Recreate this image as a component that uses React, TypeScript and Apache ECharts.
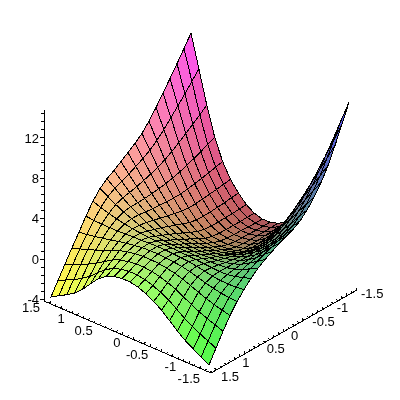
import React, { useEffect, useRef } from "react";
import * as echarts from "echarts";

const uValues = [-1.5,-1.35,-1.2,-1.05,-0.9,-0.75,-0.6,-0.45,-0.3,-0.15,0,0.15,0.3,0.45,0.6,0.75,0.9,1.05,1.2,1.35,1.5];
const vValues = [-1.5,-1.35,-1.2,-1.05,-0.9,-0.75,-0.6,-0.45,-0.3,-0.15,0,0.15,0.3,0.45,0.6,0.75,0.9,1.05,1.2,1.35,1.5];
// surface heights: one row per v, one column per u
const zRows = [
[14.8,12.68,10.55,8.47,6.42,4.33,2.47,1.11,.28,-.19,-.4,-.42,-.17,.35,1.16,2.18,3.62,5.68,8.53,11.79,15],
[13.04,11.19,9.35,7.53,5.73,3.85,2.18,.96,.19,-.22,-.42,-.44,-.2,.29,1.07,2.07,3.44,5.36,7.97,10.94,13.88],
[11.28,9.71,8.13,6.58,5.01,3.36,1.88,.8,.12,-.26,-.44,-.45,-.24,.22,.96,1.94,3.25,5.02,7.4,10.1,12.74],
[9.66,8.34,7,5.68,4.33,2.91,1.62,.68,.07,-.27,-.42,-.42,-.25,.19,.89,1.85,3.09,4.71,6.86,9.28,11.66],
[8.36,7.2,6.02,4.86,3.67,2.43,1.32,.51,-.01,-.3,-.43,-.43,-.27,.14,.81,1.75,2.94,4.43,6.35,8.49,10.59],
[7.28,6.24,5.17,4.12,3.07,2.02,1.08,.4,-.03,-.29,-.4,-.4,-.25,.14,.78,1.67,2.8,4.16,5.84,7.7,9.54],
[6.4,5.44,4.43,3.48,2.56,1.66,.9,.33,-.04,-.23,-.33,-.31,-.19,.18,.78,1.64,2.7,3.94,5.41,7,8.57],
[5.7,4.81,3.89,3.01,2.24,1.48,.86,.39,.09,-.07,-.12,-.1,.01,.34,.9,1.71,2.67,3.77,5.05,6.41,7.75],
[5.25,4.42,3.56,2.75,2.07,1.49,1.01,.63,.38,.25,.2,.23,.36,.65,1.16,1.85,2.68,3.64,4.77,5.96,7.14],
[4.94,4.16,3.33,2.61,2.03,1.54,1.17,.87,.67,.55,.54,.58,.71,.98,1.41,2,2.71,3.53,4.51,5.57,6.61],
[4.6,3.87,3.13,2.49,2,1.62,1.35,1.13,.98,.91,.9,.95,1.06,1.29,1.66,2.15,2.76,3.44,4.29,5.2,6.1],
[4.2,3.58,2.93,2.38,2,1.73,1.53,1.39,1.29,1.25,1.26,1.31,1.41,1.59,1.91,2.33,2.82,3.4,4.09,4.85,5.6],
[3.79,3.27,2.76,2.32,2.03,1.83,1.72,1.64,1.6,1.59,1.63,1.66,1.74,1.88,2.13,2.48,2.91,3.38,3.94,4.55,5.16],
[3.3,2.91,2.51,2.22,2.04,1.98,1.94,1.94,1.93,1.96,2,2.03,2.09,2.17,2.36,2.6,2.91,3.25,3.65,4.11,4.56],
[2.68,2.43,2.21,2.07,2.04,2.1,2.16,2.23,2.28,2.32,2.37,2.39,2.42,2.44,2.53,2.63,2.78,2.94,3.16,3.41,3.69],
[1.96,1.87,1.83,1.86,1.96,2.14,2.27,2.4,2.47,2.53,2.58,2.59,2.58,2.53,2.52,2.48,2.46,2.46,2.47,2.52,2.6],
[1.14,1.21,1.31,1.47,1.67,1.92,2.14,2.32,2.41,2.5,2.55,2.54,2.51,2.4,2.29,2.12,1.94,1.79,1.62,1.5,1.39],
[.14,.35,.56,.82,1.13,1.47,1.78,2.02,2.18,2.31,2.36,2.36,2.29,2.14,1.94,1.62,1.29,.99,.71,.45,.21],
[-1.03,-.73,-.43,-.1,.29,.72,1.15,1.47,1.72,1.91,2,2,1.9,1.72,1.39,.92,.41,0,-.36,-.7,-1.01],
[-2.33,-1.95,-1.58,-1.16,-.67,-.09,.47,.89,1.23,1.49,1.62,1.63,1.52,1.26,.82,.17,-.52,-1.05,-1.49,-1.86,-2.26],
[-3.6,-3.15,-2.68,-2.19,-1.58,-.87,-.18,.37,.8,1.13,1.3,1.31,1.17,.85,.3,-.54,-1.41,-2.11,-2.61,-3.05,-3.5],
];
const zTicks = [12, 8, 4, 0, -4];
const uTicks = [1.5, 1, 0.5, 0, -0.5, -1, -1.5];
const vTicks = [1.5, 1, 0.5, 0, -0.5, -1, -1.5];

const px = (u: number, v: number) => 200 - 52.7 * u - 46.7 * v;
const py = (u: number, v: number, z: number) => 297 - 22.3 * u + 25.67 * v - 10.1 * (z + 4);

export default function App() {
  const ref = useRef<HTMLDivElement>(null);
  useEffect(() => {
    const c = echarts.init(ref.current!, undefined, { renderer: "svg" });
    const n = uValues.length;
    const mid = (i: number, j: number) => (zRows[j][i] + zRows[j][i + 1] + zRows[j + 1][i] + zRows[j + 1][i + 1]) / 4;
    const cells: number[][] = [];
    for (let j = 0; j < n - 1; j++)
      for (let i = 0; i < n - 1; i++) {
        const um = (uValues[i] + uValues[i + 1]) / 2, vm = (vValues[j] + vValues[j + 1]) / 2;
        cells.push([i, j, -0.886 * um + vm + 0.22 * mid(i, j)]);
      }
    cells.sort((a, b) => a[2] - b[2]);

    const segs: number[][] = [[44, 301, 44, 110], [44, 301, 211, 373], [211, 373, 357, 290]];
    for (let k = 0; k <= 23; k++) {
      const y = 299.5 - k * 8.08;
      if (y < 110) break;
      segs.push([44, y, k % 5 === 0 ? 40 : 41, y]);
    }
    for (let k = 0; k <= 30; k++) {
      const t = k / 30, x = 44 + 167 * t, y = 301 + 72 * t;
      segs.push([x, y, x + 1, y - 2]);
    }
    for (let k = 0; k <= 30; k++) {
      const t = k / 30, x = 211 + 146 * t, y = 373 - 83 * t;
      segs.push([x, y, x - 1, y - 2]);
    }
    const labels: any[] = [];
    zTicks.forEach((z) => labels.push([String(z), 39, 259 - z * 10.05, "right"]));
    uTicks.forEach((u) => {
      const t = (1.5 - u) / 3;
      labels.push([String(u), 44 + 167 * t - 7 - (u === -1.5 ? 4 : 0) + (u === 1.5 ? 3 : 0), 301 + 72 * t + 5 + (u === 1.5 ? 1 : 0), "right"]);
    });
    vTicks.forEach((v) => {
      const t = (1.5 - v) / 3;
      labels.push([String(v), 211 + 146 * t + 7 - (v < 0 ? 3 : 0) + (v === 1.5 ? 3 : 0), 373 - 83 * t + 3.5, "left"]);
    });

    c.setOption({
      animation: false,
      grid: { left: 0, top: 0, width: 400, height: 400 },
      xAxis: { type: "value", min: 0, max: 400, show: false },
      yAxis: { type: "value", min: 0, max: 400, inverse: true, show: false },
      series: [
        {
          type: "custom", coordinateSystem: "cartesian2d", data: segs, clip: false, silent: true,
          renderItem: (_: any, api: any) => {
            const a = api.coord([api.value(0), api.value(1)]), b = api.coord([api.value(2), api.value(3)]);
            return { type: "line", shape: { x1: a[0], y1: a[1], x2: b[0], y2: b[1] }, style: { stroke: "#000", lineWidth: 1 } };
          },
        },
        {
          type: "custom", coordinateSystem: "cartesian2d", data: labels.map((_, i) => [i]), clip: false, silent: true,
          renderItem: (_: any, api: any) => {
            const l = labels[api.value(0)];
            const a = api.coord([l[1], l[2]]);
            return { type: "text", x: a[0], y: a[1], style: { text: l[0], fill: "#000", font: '13px "Liberation Sans"', align: l[3], verticalAlign: "middle" } };
          },
        },
        {
          type: "custom", coordinateSystem: "cartesian2d", data: cells, clip: false, silent: true,
          renderItem: (_: any, api: any) => {
            const i = api.value(0), j = api.value(1);
            const pts = [[i, j], [i + 1, j], [i + 1, j + 1], [i, j + 1]].map(([a, b]) => {
              const u = uValues[a], v = vValues[b];
              return api.coord([px(u, v), py(u, v, zRows[b][a])]);
            });
            const um = (uValues[i] + uValues[i + 1]) / 2, vm = (vValues[j] + vValues[j + 1]) / 2;
            const tz = Math.max(0, Math.min(1, (mid(i, j) + 3.6) / 18.6));
            const col = `rgb(${Math.round(85 + 170 * (um + 1.5) / 3)},${Math.round(85 + 170 * (vm + 1.5) / 3)},${Math.round(75 + 180 * Math.pow(tz, 1.3))})`;
            return { type: "polygon", shape: { points: pts }, style: { fill: col, stroke: "#000", lineWidth: 1 } };
          },
        },
      ],
    });
    return () => c.dispose();
  }, []);
  return (
    <div style={{ position: "fixed", left: 0, top: 0 }}>
      <style>{"svg path{shape-rendering:crispEdges}"}</style>
      <div ref={ref} style={{ width: 400, height: 400 }} />
    </div>
  );
}
